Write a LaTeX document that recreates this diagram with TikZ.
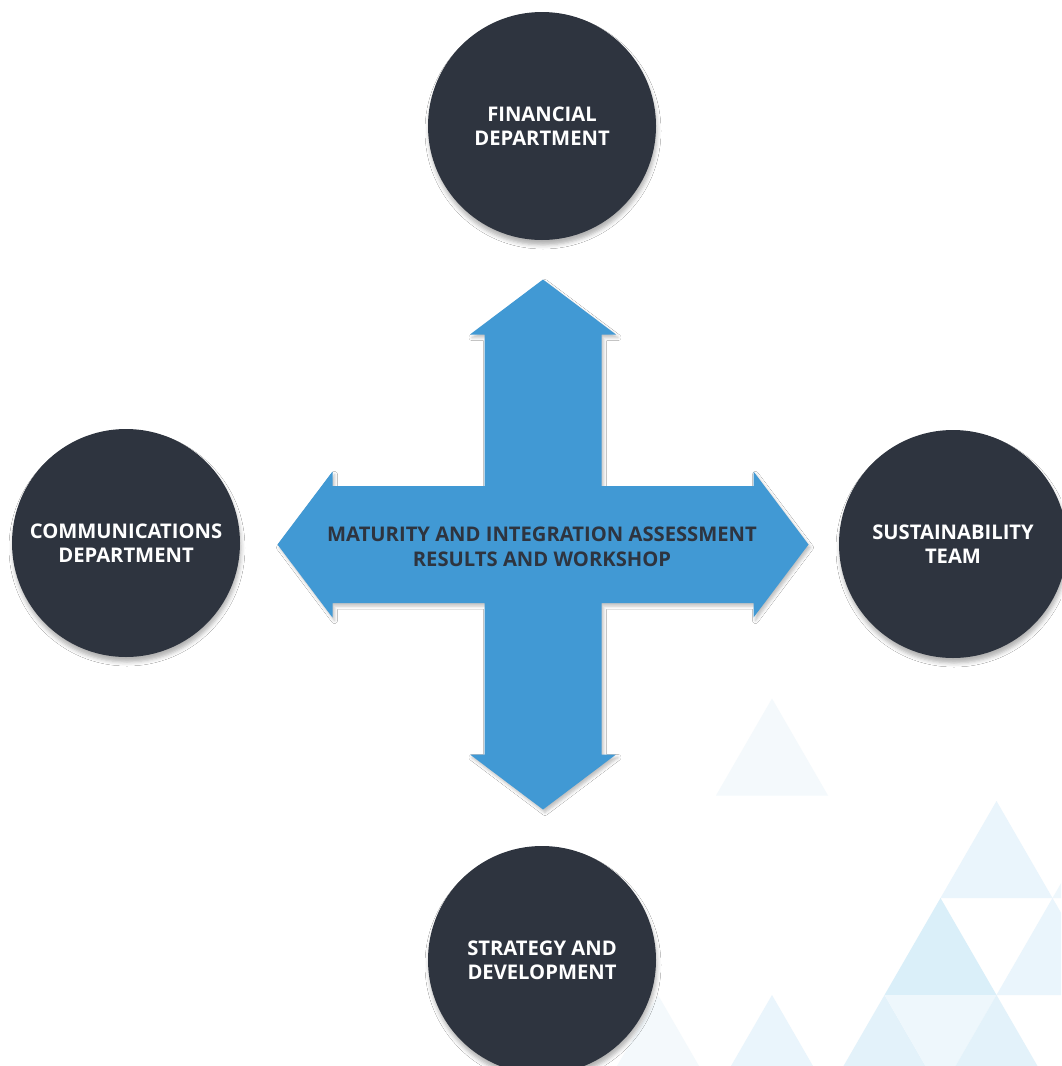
\documentclass[tikz,border=0pt]{standalone}
\usepackage{fontspec}
\setmainfont{Open Sans}
\usetikzlibrary{shadows.blur}
\definecolor{navy}{HTML}{2E343F}
\definecolor{arrowblue}{HTML}{4199D4}
\definecolor{triA}{HTML}{F4F9FC}
\definecolor{triB}{HTML}{EAF5FC}
\definecolor{triC}{HTML}{DAEFF9}
\definecolor{triD}{HTML}{E3F2FA}
\definecolor{triE}{HTML}{EEF7FC}
\tikzset{
  dept/.style={circle, fill=navy, minimum size=228pt, inner sep=0pt, text=white,
    align=center, font=\bfseries\fontsize{20.2}{24}\selectfont,
    blur shadow={shadow xshift=1pt, shadow yshift=-5pt, shadow blur radius=4pt, shadow opacity=30}},
  centertext/.style={text=navy, align=center, font=\bfseries\fontsize{20.2}{25}\selectfont}
}
\begin{document}
\begin{tikzpicture}[x=1pt, y=-1pt]
\useasboundingbox (0,0) rectangle (1061,1066);
\fill[white] (0,0) rectangle (1061,1066);
% background triangles
\begin{scope}
\clip (0,0) rectangle (1061,1066);
\fill[triA] (772,698.5) -- (828,795.5) -- (716,795.5) -- cycle;
\fill[triB] (996.5,801) -- (1052.5,898) -- (940.5,898) -- cycle;
\fill[triE] (1052.5,898) -- (1164.5,898) -- (1108.5,801) -- cycle;
\fill[triC] (940.5,898) -- (996.5,995) -- (884.5,995) -- cycle;
\fill[triB] (1052.5,898) -- (1108.5,995) -- (996.5,995) -- cycle;
\fill[triD] (884.5,995) -- (940.5,1092) -- (828.5,1092) -- cycle;
\fill[triE] (884.5,995) -- (996.5,995) -- (940.5,1092) -- cycle;
\fill[triD] (996.5,995) -- (1052.5,1092) -- (940.5,1092) -- cycle;
\fill[triB] (772,995) -- (828,1092) -- (716,1092) -- cycle;
\fill[triA] (658,995) -- (714,1092) -- (602,1092) -- cycle;
\end{scope}
% central four-way arrow
\fill[arrowblue, blur shadow={shadow xshift=2pt, shadow yshift=-3pt, shadow blur radius=3pt, shadow opacity=25}]
  (543,279.5) -- (616,334.5) -- (601.5,334.5) -- (601.5,486) -- (753.5,486) -- (753.5,471.5)
  -- (808.5,544.5) -- (753.5,617.5) -- (753.5,603) -- (601.5,603) -- (601.5,754.5) -- (616,754.5)
  -- (543,809.5) -- (470,754.5) -- (484.5,754.5) -- (484.5,603) -- (332.5,603) -- (332.5,617.5)
  -- (277.5,544.5) -- (332.5,471.5) -- (332.5,486) -- (484.5,486) -- (484.5,334.5) -- (470,334.5) -- cycle;
\node[centertext] (center) at (542,547) {MATURITY AND INTEGRATION ASSESSMENT\\RESULTS AND WORKSHOP};
% departments
\node[dept] (fin) at (542,126) {FINANCIAL\\DEPARTMENT};
\node[dept] (comm) at (126,543) {COMMUNICATIONS\\DEPARTMENT};
\node[dept] (sust) at (953,544) {SUSTAINABILITY\\TEAM};
\node[dept] (strat) at (542,960) {STRATEGY AND\\DEVELOPMENT};
\end{tikzpicture}
\end{document}
